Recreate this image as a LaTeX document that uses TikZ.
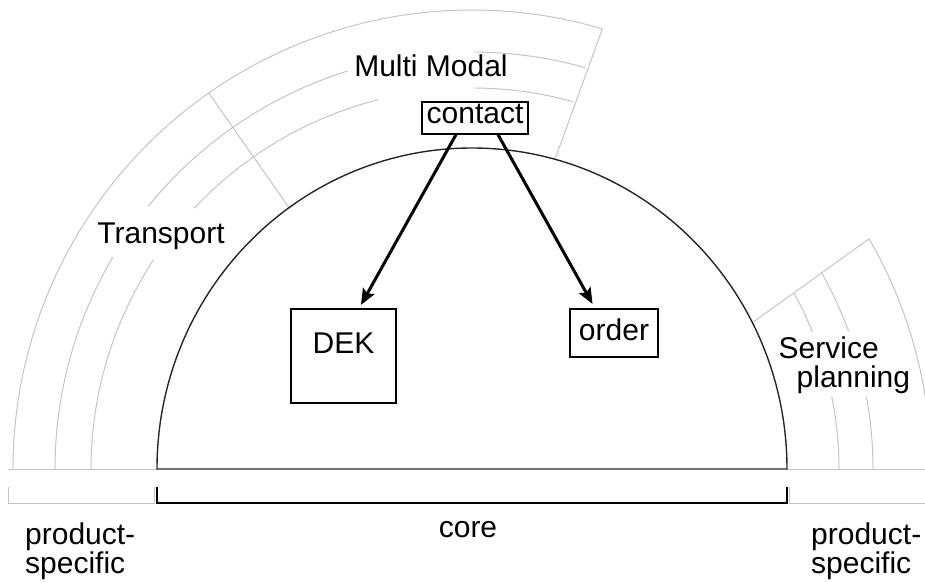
\documentclass[tikz,border=0pt]{standalone}
\usepackage{fontspec}
\setmainfont{Liberation Sans}
\usepackage{tikz}
\usetikzlibrary{arrows.meta}

\definecolor{ringgray}{RGB}{196,196,196}

\begin{document}
\begin{tikzpicture}[
        x=1pt, y=1pt,
        % the rings round the core
        ring/.style={draw=ringgray, line width=1pt},
        core/.style={draw=black!85, line width=1.4pt},
        % boxes and texts
        box/.style={draw, line width=1.2pt, inner sep=0pt, font=\fontsize{30}{30}\selectfont},
        txt/.style={inner sep=0pt, font=\fontsize{30}{30}\selectfont},
        link/.style={line width=3pt, -{Stealth[length=16pt, width=13pt, inset=3pt]}}
    ]
    \useasboundingbox (-472,-113) rectangle (453,469);

    % left rings: Transport and Multi Modal
    \draw[ring] (180:459) arc[start angle=180, end angle=73.5, radius=459];
    \draw[ring] (180:417) arc[start angle=180, end angle=149.5, radius=417];
    \draw[ring] (140.9:417) arc[start angle=140.9, end angle=107.3, radius=417];
    \draw[ring] (89.6:417) arc[start angle=89.6, end angle=74.3, radius=417];
    \draw[ring] (180:381) arc[start angle=180, end angle=146.7, radius=381];
    \draw[ring] (136.8:381) arc[start angle=136.8, end angle=104.2, radius=381];
    \draw[ring] (89.6:381) arc[start angle=89.6, end angle=74.6, radius=381];
    \draw[ring] (125:319) -- (125:459);
    \draw[ring] (75:320) -- (73.5:459);

    % right rings: Service planning
    \draw[ring] (27.6:318) -- (30.1:459);
    \draw[ring] (30.1:459) arc[start angle=30.1, end angle=0, radius=459];
    \draw[ring] (29.3:401) arc[start angle=29.3, end angle=20.1, radius=401];
    \draw[ring] (10.4:401) arc[start angle=10.4, end angle=0, radius=401];
    \draw[ring] (28.6:367) arc[start angle=28.6, end angle=21.9, radius=367];
    \draw[ring] (11.4:367) arc[start angle=11.4, end angle=0, radius=367];

    % ground line and the core
    \draw[ring] (-463,0) -- (-315,0);
    \draw[ring] (315,0) -- (453,0);
    \draw[core] (-315,0) arc[start angle=180, end angle=0, x radius=315, y radius=321] -- cycle;

    % brackets under the line
    \draw[ring] (-463,-18) -- (-463,-34) -- (-317,-34) -- (-317,-18);
    \draw[line width=1.4pt] (-315,-18) -- (-315,-34) -- (315,-34) -- (315,-18);
    \draw[ring] (317,-18) -- (317,-34) -- (453,-34);

    % labels
    \node[txt, anchor=base] (multimodal) at (-41,392) {Multi Modal};
    \node[txt, anchor=base] (transport) at (-311,226) {Transport};
    \node[txt, anchor=north west, align=left, font=\fontsize{30}{29}\selectfont]
        (service) at (306.5,132) {Service\\\hspace*{18pt}planning};
    \node[txt, anchor=base] (core) at (-4,-68) {core};
    \node[txt, anchor=north west, align=left, font=\fontsize{30}{29}\selectfont]
        (leftspec) at (-447,-53.5) {product-\\specific};
    \node[txt, anchor=north west, align=left, font=\fontsize{30}{29}\selectfont]
        (rightspec) at (339,-53.5) {product-\\specific};

    % boxes
    \node[box, minimum width=106pt, text height=22pt, text depth=10pt] (contact) at (3,351) {contact};
    \node[box, minimum width=105pt, text height=44pt, text depth=50pt] (dek) at (-128.5,113) {DEK};
    \node[box, minimum width=88pt, text height=31pt, text depth=17pt] (order) at (142,136) {order};

    % arrows
    \draw[link, shorten >=4pt] ([xshift=-19pt]contact.south) -- ([xshift=15.5pt]dek.north);
    \draw[link, shorten >=5pt] ([xshift=23pt]contact.south) -- ([xshift=-19pt]order.north);
\end{tikzpicture}
\end{document}
